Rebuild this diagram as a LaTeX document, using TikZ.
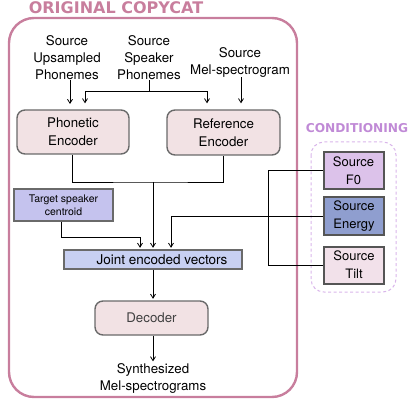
\documentclass[tikz,border=0pt]{standalone}
\usepackage{fontspec}
\setmainfont{TeX Gyre Heros}
\newfontfamily\titlefont{DejaVu Sans}
\usetikzlibrary{arrows.meta}
\definecolor{outerpink}{HTML}{C87E9D}
\definecolor{encfill}{HTML}{F2E2E4}
\definecolor{boxborder}{HTML}{6A6A6A}
\definecolor{jointfill}{HTML}{C8D0F2}
\definecolor{centfill}{HTML}{C5C3EE}
\definecolor{ffill}{HTML}{DCC2EA}
\definecolor{efill}{HTML}{8F9ECF}
\definecolor{tfill}{HTML}{F2E1EA}
\definecolor{condcol}{HTML}{D9B6EA}
\definecolor{condtext}{HTML}{C08AD6}
\begin{document}
\begin{tikzpicture}[x=1pt,y=-1pt,
  txt/.style={align=center,font=\fontsize{13.3}{17}\selectfont,inner sep=0pt},
  enc/.style={draw=boxborder,line width=1.4pt,fill=encfill,rounded corners=8pt,inner sep=0pt,align=center,font=\fontsize{13.3}{18}\selectfont},
  sq/.style={draw=boxborder,line width=1.4pt,inner sep=0pt,align=center,font=\fontsize{13.5}{18}\selectfont},
  cond/.style={draw=boxborder!80!black,line width=2pt,inner sep=0pt,align=center,minimum width=60pt,minimum height=37pt,font=\fontsize{13}{18}\selectfont},
  line/.style={draw=black,line width=0.8pt},
  arr/.style={line,-{Straight Barb[length=4pt,width=5pt]}}]
\useasboundingbox (0,0) rectangle (409,403);
% outer frame
\draw[outerpink,line width=2.4pt,rounded corners=25pt] (9,18) rectangle (297,397);
\node[text=outerpink,font=\titlefont\bfseries\fontsize{16}{18}\selectfont,inner sep=0pt] (title) at (116,8) {ORIGINAL COPYCAT};
% conditioning frame
\draw[condcol,line width=1pt,dashed,dash pattern=on 3pt off 2.5pt,rounded corners=13pt] (311,142) rectangle (396,292);
\node[text=condtext,font=\titlefont\bfseries\fontsize{12.2}{14}\selectfont,inner sep=0pt] (condtitle) at (357,128) {CONDITIONING};
% sources
\node[txt] (upsrc) at (67,58) {Source\\Upsampled\\Phonemes};
\node[txt] (spsrc) at (149,58) {Source\\Speaker\\Phonemes};
\node[txt] (melsrc) at (240,62) {Source\\Mel-spectrogram};
% encoders
\node[enc,minimum width=112pt,minimum height=44pt] (phon) at (73,132) {Phonetic\\Encoder};
\node[enc,minimum width=113pt,minimum height=45pt] (ref) at (223.5,132.5) {Reference\\Encoder};
% target centroid
\node[sq,fill=centfill,minimum width=99pt,minimum height=32pt,font=\fontsize{10.5}{13}\selectfont] (cent) at (63.5,205) {Target speaker\\centroid};
% joint
\node[sq,fill=jointfill,minimum width=178pt,minimum height=19pt] (joint) at (153,259.5) {\hspace*{18pt}Joint encoded vectors};
% decoder
\node[enc,minimum width=113pt,minimum height=34pt,text=black!75] (dec) at (151.5,318) {Decoder};
\node[txt] (out) at (153,378.5) {Synthesized\\Mel-spectrograms};
% conditioning boxes
\node[cond,fill=ffill] (f0) at (353.5,170.5) {Source\\F0};
\node[cond,fill=efill] (energy) at (354,216) {Source\\Energy};
\node[cond,fill=tfill] (tilt) at (354,265) {Source\\Tilt};
% connectors: sources to encoders
\draw[arr,shorten >=6pt] (upsrc.south -| 70,0) -- (70,110);
\coordinate (spj) at (149,91);
\draw[line] (spsrc.south) -- (spj);
\draw[arr,shorten >=6pt] (spj) -| ([xshift=12pt]phon.north);
\draw[arr,shorten >=6pt] (spj) -| ([xshift=-16.5pt]ref.north);
\draw[arr,shorten >=6pt] ([xshift=17.5pt]ref.north |- melsrc.south) -- ([xshift=17.5pt]ref.north);
% encoders to joint
\coordinate (mj) at (153,182);
\draw[line] ([xshift=-1pt]phon.south) |- (mj) -| (ref.south);
\draw[arr,shorten >=1.5pt] (mj) -- (joint.north);
% centroid to joint
\coordinate (cj) at (140,237);
\draw[arr,shorten >=1.5pt] ([xshift=-2.5pt]cent.south) |- (cj) -- (cj |- joint.north);
% energy to joint
\coordinate (ej) at (171,216);
\draw[arr,shorten >=1.5pt] (energy.west) -- (ej) -- (ej |- joint.north);
% f0 / tilt bracket
\coordinate (bx) at (268,0);
\draw[line] (f0.west) -- (f0.west -| bx) -- (tilt.west -| bx) -- (tilt.west);
% joint to decoder to output
\draw[arr,shorten >=1.5pt] (joint.south) -- (joint.south |- dec.north);
\draw[arr,shorten >=2pt] (dec.south -| joint.south) -- (out.north -| joint.south);
\end{tikzpicture}
\end{document}
